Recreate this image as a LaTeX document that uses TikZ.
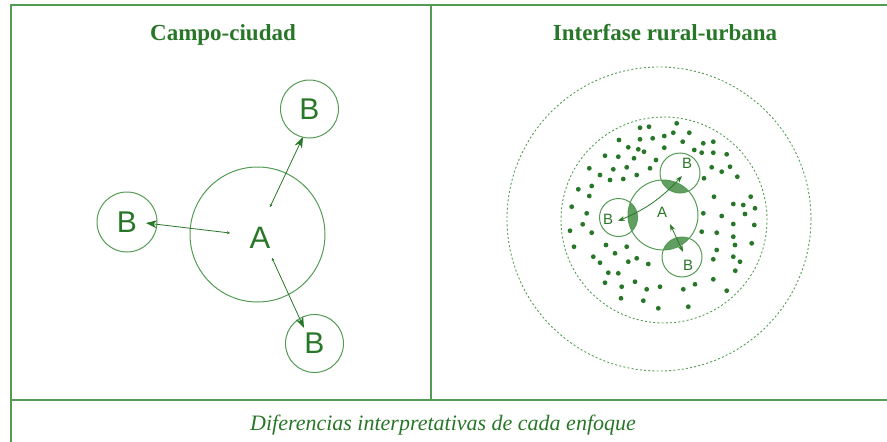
\documentclass[tikz,border=0pt]{standalone}
\usepackage{fontspec}
\setmainfont{Liberation Serif}
\newfontfamily\lsans{Liberation Sans}
\usetikzlibrary{arrows.meta}
\definecolor{lineg}{RGB}{84,155,84}
\definecolor{textg}{RGB}{40,118,40}
\definecolor{lensg}{RGB}{70,140,70}
\tikzset{
  frame/.style={draw=lineg, line width=1.4pt},
  title/.style={text=textg, font=\fontsize{23}{26}\selectfont\bfseries, inner sep=0pt, anchor=base},
  foot/.style={text=textg, font=\fontsize{22}{24}\selectfont\itshape, inner sep=0pt, anchor=base},
  bigcirc/.style={circle, draw=lineg, line width=1pt, inner sep=0pt, text=textg},
  smallcirc/.style={circle, draw=lineg, line width=1pt, inner sep=0pt, text=textg},
  arrbig/.style={draw=textg, line width=0.8pt, {Stealth[length=3pt,width=3pt]}-{Stealth[length=11pt,width=8pt]}},
  arrsmall/.style={draw=textg, line width=0.8pt, {Stealth[length=7pt,width=5pt]}-{Stealth[length=7pt,width=5pt]}},
  lens/.style={fill=lensg, fill opacity=0.85},
  dashc/.style={draw=lineg, line width=0.9pt, dash pattern=on 2pt off 2.2pt},
  dotc/.style={fill=textg},
  lab/.style={text=textg, inner sep=0pt}
}
\begin{document}
\begin{tikzpicture}[x=1pt,y=-1pt]
\useasboundingbox (0,0) rectangle (887,442);
% frame
\coordinate (fbl) at (11,442);
\coordinate (ftl) at (11,5);
\coordinate (ftr) at (887,5);
\coordinate (dtop) at (431,5);
\coordinate (dbot) at (431,400);
\coordinate (hl) at (11,400);
\coordinate (hr) at (887,400);
\draw[frame] (fbl) -- (ftl) -- (ftr);
\draw[frame] (dtop) -- (dbot);
\draw[frame] (hl) -- (hr);
% titles
\node[title] (t1) at (223,40) {Campo-ciudad};
\node[title] (t2) at (665,40) {Interfase rural-urbana};
\node[foot] (ft) at (443,430) {Diferencias interpretativas de cada enfoque};
% left panel
\node[bigcirc, minimum size=135pt] (A1) at (257.5,234.5) {};
\node[lab, font=\lsans\fontsize{31}{31}\selectfont] (A1l) at (260,238) {A};
\node[smallcirc, minimum size=58pt, font=\lsans\fontsize{30}{30}\selectfont] (B1) at (309.5,109) {B};
\node[smallcirc, minimum size=60pt, font=\lsans\fontsize{30}{30}\selectfont] (B2) at (127,222) {B};
\node[smallcirc, minimum size=58pt, font=\lsans\fontsize{30}{30}\selectfont] (B3) at (314.5,343.5) {B};
\coordinate (s1) at (270,207);
\coordinate (e1) at (303,137);
\coordinate (s2) at (230,233);
\coordinate (e2) at (146,223);
\coordinate (s3) at (272,258);
\coordinate (e3) at (304,328);
\draw[arrbig] (s1) -- (e1);
\draw[arrbig] (s2) -- (e2);
\draw[arrbig] (s3) -- (e3);
% right panel
\node[circle, dashc, minimum size=304pt, inner sep=0pt] (O) at (659,219) {};
\node[circle, dashc, minimum size=206pt, inner sep=0pt] (I) at (664,220) {};
\foreach \p in {(640,127.7),(649,126.7),(676.7,123.3),(664.3,136),(673.3,132.7),(689.3,132.7),
(619,140),(640,139.3),(652.7,138.3),(682.7,141.7),(703.3,143.3),(713.3,141.7),
(628.3,147.3),(638.3,149.3),(644,151.7),(664.3,147.7),(694.3,150),(701.7,152.7),(713.3,152.7),(726.7,154.3),
(605,155.7),(618.3,156.7),(634,158.3),(656,160),
(589.3,168.3),(600,175),(613.3,169.3),(626.7,167.3),(636.7,175),(650,168.3),
(711.7,167.3),(721.7,171.7),(730,166.7),(737.3,176.7),
(578.3,189.3),(591.7,186),(610,180),(623.3,179),(589.3,196),(704,178.3),
(714,196.7),(733.3,204),(750.7,196.7),(571.7,206.7),(586.7,213.3),
(703.3,213.3),(721.7,216),(743.3,205),(755,208.3),(745,214),
(582.7,224.3),(570,230.7),(591.7,232.7),(701.7,231.7),(716.7,232.7),(733.3,224),(754.3,225),
(574,246.7),(606,245),(626.7,246.7),(593.3,256.7),(615,253.3),(636.7,258.3),(600,262.7),(628.3,261.7),(648.3,264),
(608.3,272.7),(618.3,273.3),(716.7,250),(733.3,236.7),(735,245),(751.7,243.3),
(713.3,259.3),(733.3,256.7),(740,261.7),(735.3,270.7),
(605,282.7),(621.7,286.7),(635,281.7),(646.7,289.3),(660,286.7),(683.3,289.3),(695,284.3),(713.3,279.3),(726.7,290.7),
(621,298.3),(643.3,300.7),(658.3,308.3),(688.3,306.7)}
  \fill[dotc] \p circle [radius=2.4pt];
\coordinate (A2c) at (663,215);
\coordinate (B4c) at (680,173);
\coordinate (B5c) at (618.5,217.5);
\coordinate (B6c) at (682,257);
% lenses
\begin{scope}
  \clip (A2c) circle [radius=35pt];
  \fill[lens] (B4c) circle [radius=20pt];
  \fill[lens] (B5c) circle [radius=19pt];
  \fill[lens] (B6c) circle [radius=20pt];
\end{scope}
\node[bigcirc, minimum size=70pt] (A2) at (A2c) {};
\node[smallcirc, minimum size=40pt] (B4) at (B4c) {};
\node[smallcirc, minimum size=38pt] (B5) at (B5c) {};
\node[smallcirc, minimum size=40pt] (B6) at (B6c) {};
\node[lab, font=\lsans\fontsize{15}{15}\selectfont] (A2l) at (662,212) {A};
\node[lab, font=\lsans\fontsize{15}{15}\selectfont] (B4l) at (687,163) {B};
\node[lab, font=\lsans\fontsize{15}{15}\selectfont] (B5l) at (608,219) {B};
\node[lab, font=\lsans\fontsize{15}{15}\selectfont] (B6l) at (688,265) {B};
\coordinate (r1s) at (618,221);
\coordinate (r1e) at (682,176);
\coordinate (r2s) at (670,224);
\coordinate (r2e) at (683,252);
\draw[arrsmall] (r1s) to[bend right=12] (r1e);
\draw[arrsmall] (r2s) -- (r2e);
\end{tikzpicture}
\end{document}
